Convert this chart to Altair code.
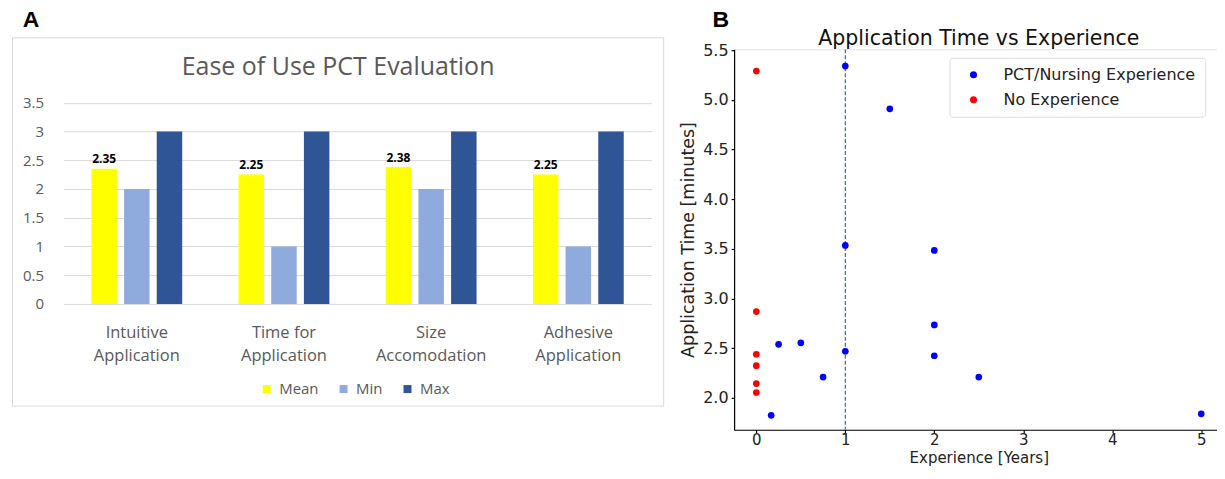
import altair as alt
import pandas as pd

# ---------------- Panel A data ----------------
categories = ["Intuitive\nApplication", "Time for\nApplication", "Size\nAccomodation", "Adhesive\nApplication"]
series = ["Mean", "Min", "Max"]
mean_vals = [2.35, 2.25, 2.38, 2.25]
min_vals = [2, 1, 2, 1]
max_vals = [3, 3, 3, 3]
bar_colors = ["#FFFF00", "#8FAADC", "#2F5597"]
a_ticks = [0, 0.5, 1, 1.5, 2, 2.5, 3, 3.5]

# ---------------- Panel B data ----------------
exp_years = [1, 1.5, 1, 2, 2, 2, 0.25, 0.5, 1, 0.75, 2.5, 0.167, 5]
exp_times = [5.34, 4.91, 3.535, 3.485, 2.735, 2.425, 2.54, 2.555, 2.47, 2.21, 2.21, 1.825, 1.84]
noexp_years = [0, 0, 0, 0, 0, 0]
noexp_times = [5.29, 2.87, 2.44, 2.325, 2.145, 2.055]
groups = ["PCT/Nursing Experience", "No Experience"]
group_colors = ["#0000FF", "#FF0000"]
b_xticks = [0, 1, 2, 3, 4, 5]
b_yticks = [2.0, 2.5, 3.0, 3.5, 4.0, 4.5, 5.0, 5.5]
vline_x = [1]

FA = "Open Sans"
FB = "DejaVu Sans"

rows = []
for i, c in enumerate(categories):
    for s, vals in zip(series, [mean_vals, min_vals, max_vals]):
        rows.append({"cat": c, "series": s, "value": vals[i]})
bars_df = pd.DataFrame(rows)
one = pd.DataFrame({"k": [0]})

x_a = alt.X("cat:N", sort=categories,
            scale=alt.Scale(paddingInner=0.383, paddingOuter=0.19),
            axis=alt.Axis(title=None, labelAngle=0, labelExpr="split(datum.label, '\\n')",
                          labelFont=FA, labelFontSize=16.5, labelColor="#595959",
                          labelLineHeight=23, labelPadding=20.5, ticks=False, domain=False,
                          labelLimit=300))
xo_a = alt.XOffset("series:N", sort=series, scale=alt.Scale(paddingInner=0.22, paddingOuter=0))
y_a = alt.Y("value:Q", scale=alt.Scale(domain=[0, 4.43], nice=False),
            axis=alt.Axis(values=a_ticks, format=".1~f", title=None, grid=True,
                          gridColor="#D9D9D9", gridWidth=1, domain=False, ticks=False,
                          labelPadding=20, labelFontSize=15, labelColor="#595959", labelFont=FA))

border = alt.Chart(one).mark_rect(fill="white", fillOpacity=0, stroke="#D9D9D9", strokeWidth=1).encode(
    x=alt.value(-51), x2=alt.value(601), y=alt.value(-11.4), y2=alt.value(357.3))

bars = alt.Chart(bars_df).mark_bar().encode(
    x=x_a, xOffset=xo_a, y=y_a,
    color=alt.Color("series:N", sort=series,
                    scale=alt.Scale(domain=series, range=bar_colors),
                    legend=alt.Legend(orient="none", legendX=196, legendY=332.5, direction="horizontal",
                                      title=None, symbolType="square", symbolSize=64,
                                      labelFontSize=15, labelFont=FA, labelColor="#595959",
                                      columnPadding=17, labelOffset=5, padding=0,
                                      symbolStrokeWidth=0)))

mean_labels = alt.Chart(bars_df).transform_filter("datum.series == 'Mean'").mark_text(
    baseline="alphabetic", dy=-5.5, fontSize=12, fontWeight="bold", font=FA, color="#000000").encode(
    x=x_a, xOffset=xo_a, y=y_a, text=alt.Text("value:Q", format=".2f"))

title_a = alt.Chart(one).mark_text(text="Ease of Use PCT Evaluation", fontSize=25, font=FA,
                                   color="#595959", align="center", baseline="alphabetic").encode(
    x=alt.value(275), y=alt.value(26))

letter_a = alt.Chart(one).mark_text(text="A", fontSize=23, fontWeight="bold", font="Liberation Sans",
                                    color="#000000", align="center", baseline="alphabetic").encode(
    x=alt.value(-32.5), y=alt.value(-22))

panel_a = alt.layer(border, bars, mean_labels, title_a, letter_a).properties(
    width=589, height=255, view=alt.ViewBackground(stroke=None))

# ---------------- Panel B ----------------
scatter_df = pd.DataFrame({
    "years": exp_years + noexp_years,
    "time": exp_times + noexp_times,
    "group": [groups[0]] * len(exp_years) + [groups[1]] * len(noexp_years),
})

axis_b = dict(labelFont=FB, labelColor="#222222", titleFont=FB,
              titleFontWeight="normal", titleColor="#222222", domainColor="#000000", domainWidth=1.2,
              tickColor="#000000", tickSize=3, tickWidth=1.2, grid=False)

x_b = alt.X("years:Q", scale=alt.Scale(domain=[-0.25, 5.25], nice=False, zero=False),
            axis=alt.Axis(values=b_xticks, format="d", title="Experience [Years]",
                          labelFontSize=15, titleFontSize=15,
                          labelPadding=0, titlePadding=3, **axis_b))
y_b = alt.Y("time:Q", scale=alt.Scale(domain=[1.68, 5.51], nice=False, zero=False),
            axis=alt.Axis(values=b_yticks, format=".1f", title="Application Time [minutes]",
                          labelFontSize=16, titleFontSize=17.5,
                          labelPadding=3, titlePadding=5, **axis_b))

vline = alt.Chart(pd.DataFrame({"x": vline_x})).mark_rule(
    color="#1f77b4", strokeDash=[4, 2], strokeWidth=1.2).encode(
    x=alt.X("x:Q", scale=alt.Scale(domain=[-0.25, 5.25], nice=False, zero=False)))

pts = alt.Chart(scatter_df).mark_circle(size=45, opacity=1).encode(
    x=x_b, y=y_b,
    color=alt.Color("group:N", sort=groups, scale=alt.Scale(domain=groups, range=group_colors),
                    legend=alt.Legend(orient="none", legendX=215.7, legendY=8.6, title=None,
                                      symbolType="circle", symbolSize=50, labelFontSize=16,
                                      labelFont=FB, labelColor="#222222", padding=9,
                                      symbolOffset=7, labelOffset=22, rowPadding=9,
                                      labelLimit=400,
                                      strokeColor="#DDDDDD", fillColor="white", cornerRadius=3,
                                      symbolStrokeWidth=0)))

title_b = alt.Chart(one).mark_text(text="Application Time vs Experience", fontSize=20.5, font=FB,
                                   color="#111111", align="center", baseline="alphabetic").encode(
    x=alt.value(245), y=alt.value(-4.5))

letter_b = alt.Chart(one).mark_text(text="B", fontSize=23, fontWeight="bold", font="Liberation Sans",
                                    color="#000000", align="center", baseline="alphabetic").encode(
    x=alt.value(-13.3), y=alt.value(-22))

panel_b = alt.layer(vline, pts, title_b, letter_b).properties(
    width=490, height=381, view=alt.ViewBackground(stroke="#E6E6E6"))

chart = alt.hconcat(panel_a, panel_b, spacing=14.5).resolve_scale(color="independent").properties(
    padding={"left": 3.5, "top": 0, "right": -7, "bottom": 0}
).configure(background="white")

chart.save("out.html", embed_options={"renderer": "svg", "actions": False})
